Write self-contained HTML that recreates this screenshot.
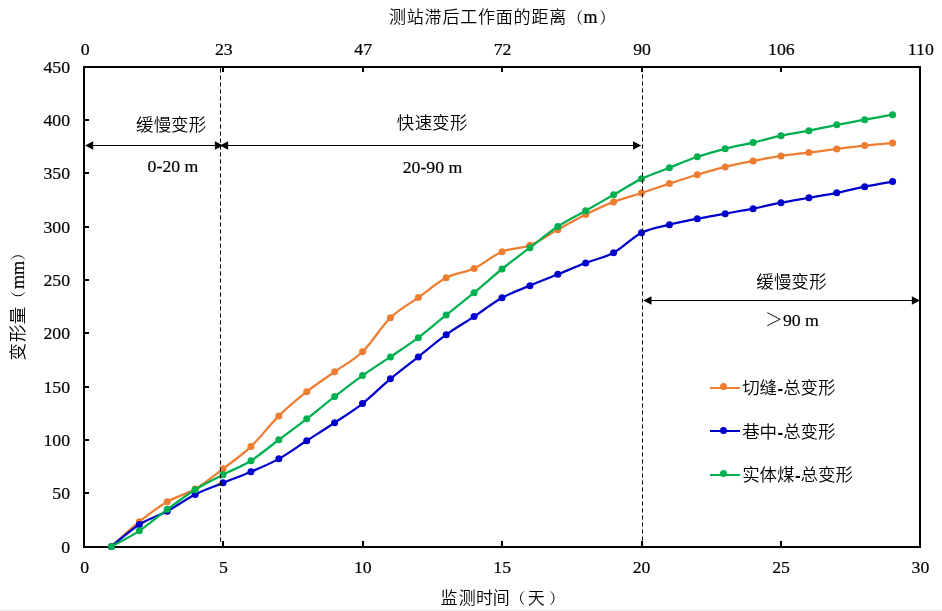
<!DOCTYPE html>
<html><head><meta charset="utf-8"><title>chart</title>
<style>html,body{margin:0;padding:0;background:#fff;}svg{display:block;}.p{font-family:'Noto Serif CJK SC',serif;font-weight:400;}</style>
</head><body>
<svg width="942" height="611" viewBox="0 0 942 611">
<rect x="0" y="0" width="942" height="611" fill="#fff"/>
<rect x="0" y="609" width="942" height="1" fill="#f7f7f7"/><rect x="0" y="610" width="942" height="1" fill="#ececec"/>
<rect x="84" y="67" width="836" height="480" fill="none" stroke="#000" stroke-width="2"/>
<g fill="#000"><rect x="85" y="546" width="4" height="2"/><rect x="85" y="492" width="4" height="2"/><rect x="85" y="439" width="4" height="2"/><rect x="85" y="386" width="4" height="2"/><rect x="85" y="332" width="4" height="2"/><rect x="85" y="279" width="4" height="2"/><rect x="85" y="226" width="4" height="2"/><rect x="85" y="172" width="4" height="2"/><rect x="85" y="119" width="4" height="2"/><rect x="85" y="66" width="4" height="2"/><rect x="222" y="541" width="2" height="5"/><rect x="222" y="68" width="2" height="4"/><rect x="362" y="541" width="2" height="5"/><rect x="362" y="68" width="2" height="4"/><rect x="501" y="541" width="2" height="5"/><rect x="501" y="68" width="2" height="4"/><rect x="641" y="541" width="2" height="5"/><rect x="641" y="68" width="2" height="4"/><rect x="780" y="541" width="2" height="5"/><rect x="780" y="68" width="2" height="4"/></g>
<path d="M111.45 546.44C116.1 542.32 130.05 529.14 139.35 521.69C148.65 514.24 157.94 507.2 167.24 501.75C176.54 496.29 185.84 494.44 195.14 488.95C204.44 483.45 213.74 475.84 223.04 468.79C232.34 461.73 241.64 455.42 250.94 446.6C260.24 437.78 269.54 425.04 278.84 415.88C288.14 406.72 297.43 399.03 306.73 391.67C316.03 384.31 325.33 378.37 334.63 371.72C343.93 365.07 353.23 360.77 362.53 351.77C371.83 342.78 381.13 326.78 390.43 317.75C399.73 308.72 409.03 304.25 418.33 297.59C427.63 290.92 436.92 282.6 446.22 277.75C455.52 272.89 464.82 272.8 474.12 268.47C483.42 264.13 492.72 255.58 502.02 251.72C511.32 247.86 520.62 249 529.92 245.32C539.22 241.64 548.52 234.78 557.82 229.64C567.12 224.5 576.41 219.12 585.71 214.49C595.01 209.87 604.31 205.5 613.61 201.91C622.91 198.32 632.21 196 641.51 192.95C650.81 189.89 660.11 186.6 669.41 183.56C678.71 180.52 688.01 177.48 697.31 174.71C706.61 171.93 715.9 169.21 725.2 166.92C734.5 164.63 743.8 162.78 753.1 160.95C762.4 159.12 771.7 157.34 781 155.93C790.3 154.53 799.6 153.69 808.9 152.52C818.2 151.35 827.5 150.05 836.8 148.89C846.1 147.74 855.39 146.58 864.69 145.59C873.99 144.59 887.94 143.36 892.59 142.92" fill="none" stroke="#ED7D31" stroke-width="2.25" stroke-linejoin="round" stroke-linecap="round"/>
<g fill="#ED7D31"><circle cx="111.45" cy="546.44" r="3.5"/><circle cx="139.35" cy="521.69" r="3.5"/><circle cx="167.24" cy="501.75" r="3.5"/><circle cx="195.14" cy="488.95" r="3.5"/><circle cx="223.04" cy="468.79" r="3.5"/><circle cx="250.94" cy="446.6" r="3.5"/><circle cx="278.84" cy="415.88" r="3.5"/><circle cx="306.73" cy="391.67" r="3.5"/><circle cx="334.63" cy="371.72" r="3.5"/><circle cx="362.53" cy="351.77" r="3.5"/><circle cx="390.43" cy="317.75" r="3.5"/><circle cx="418.33" cy="297.59" r="3.5"/><circle cx="446.22" cy="277.75" r="3.5"/><circle cx="474.12" cy="268.47" r="3.5"/><circle cx="502.02" cy="251.72" r="3.5"/><circle cx="529.92" cy="245.32" r="3.5"/><circle cx="557.82" cy="229.64" r="3.5"/><circle cx="585.71" cy="214.49" r="3.5"/><circle cx="613.61" cy="201.91" r="3.5"/><circle cx="641.51" cy="192.95" r="3.5"/><circle cx="669.41" cy="183.56" r="3.5"/><circle cx="697.31" cy="174.71" r="3.5"/><circle cx="725.2" cy="166.92" r="3.5"/><circle cx="753.1" cy="160.95" r="3.5"/><circle cx="781" cy="155.93" r="3.5"/><circle cx="808.9" cy="152.52" r="3.5"/><circle cx="836.8" cy="148.89" r="3.5"/><circle cx="864.69" cy="145.59" r="3.5"/><circle cx="892.59" cy="142.92" r="3.5"/></g>

<path d="M111.45 546.44C116.1 542.78 130.05 530.33 139.35 524.47C148.65 518.6 157.94 516.25 167.24 511.24C176.54 506.23 185.84 499.12 195.14 494.39C204.44 489.66 213.74 486.64 223.04 482.87C232.34 479.1 241.64 475.77 250.94 471.77C260.24 467.77 269.54 464.04 278.84 458.87C288.14 453.69 297.43 446.76 306.73 440.73C316.03 434.71 325.33 428.91 334.63 422.71C343.93 416.5 353.23 410.81 362.53 403.51C371.83 396.2 381.13 386.64 390.43 378.87C399.73 371.1 409.03 364.25 418.33 356.89C427.63 349.53 436.92 341.43 446.22 334.71C455.52 327.99 464.82 322.72 474.12 316.57C483.42 310.42 492.72 302.96 502.02 297.8C511.32 292.64 520.62 289.55 529.92 285.64C539.22 281.73 548.52 278.12 557.82 274.33C567.12 270.55 576.41 266.51 585.71 262.92C595.01 259.33 604.31 257.82 613.61 252.79C622.91 247.76 632.21 237.43 641.51 232.73C650.81 228.04 660.11 226.97 669.41 224.63C678.71 222.28 688.01 220.48 697.31 218.65C706.61 216.82 715.9 215.31 725.2 213.64C734.5 211.97 743.8 210.46 753.1 208.63C762.4 206.8 771.7 204.47 781 202.65C790.3 200.84 799.6 199.38 808.9 197.75C818.2 196.11 827.5 194.69 836.8 192.84C846.1 190.99 855.39 188.54 864.69 186.65C873.99 184.77 887.94 182.39 892.59 181.53" fill="none" stroke="#0000CC" stroke-width="2.25" stroke-linejoin="round" stroke-linecap="round"/>
<g fill="#0000CC"><circle cx="111.45" cy="546.44" r="3.5"/><circle cx="139.35" cy="524.47" r="3.5"/><circle cx="167.24" cy="511.24" r="3.5"/><circle cx="195.14" cy="494.39" r="3.5"/><circle cx="223.04" cy="482.87" r="3.5"/><circle cx="250.94" cy="471.77" r="3.5"/><circle cx="278.84" cy="458.87" r="3.5"/><circle cx="306.73" cy="440.73" r="3.5"/><circle cx="334.63" cy="422.71" r="3.5"/><circle cx="362.53" cy="403.51" r="3.5"/><circle cx="390.43" cy="378.87" r="3.5"/><circle cx="418.33" cy="356.89" r="3.5"/><circle cx="446.22" cy="334.71" r="3.5"/><circle cx="474.12" cy="316.57" r="3.5"/><circle cx="502.02" cy="297.8" r="3.5"/><circle cx="529.92" cy="285.64" r="3.5"/><circle cx="557.82" cy="274.33" r="3.5"/><circle cx="585.71" cy="262.92" r="3.5"/><circle cx="613.61" cy="252.79" r="3.5"/><circle cx="641.51" cy="232.73" r="3.5"/><circle cx="669.41" cy="224.63" r="3.5"/><circle cx="697.31" cy="218.65" r="3.5"/><circle cx="725.2" cy="213.64" r="3.5"/><circle cx="753.1" cy="208.63" r="3.5"/><circle cx="781" cy="202.65" r="3.5"/><circle cx="808.9" cy="197.75" r="3.5"/><circle cx="836.8" cy="192.84" r="3.5"/><circle cx="864.69" cy="186.65" r="3.5"/><circle cx="892.59" cy="181.53" r="3.5"/></g>

<path d="M111.45 546.44C116.1 543.84 130.05 537.05 139.35 530.87C148.65 524.68 157.94 516.18 167.24 509.32C176.54 502.46 185.84 495.47 195.14 489.69C204.44 483.92 213.74 479.49 223.04 474.65C232.34 469.82 241.64 466.49 250.94 460.68C260.24 454.87 269.54 446.74 278.84 439.77C288.14 432.8 297.43 426.07 306.73 418.87C316.03 411.67 325.33 403.79 334.63 396.57C343.93 389.36 353.23 382.17 362.53 375.56C371.83 368.95 381.13 363.2 390.43 356.89C399.73 350.58 409.03 344.68 418.33 337.69C427.63 330.71 436.92 322.48 446.22 314.97C455.52 307.47 464.82 300.34 474.12 292.68C483.42 285.02 492.72 276.5 502.02 269C511.32 261.5 520.62 254.74 529.92 247.67C539.22 240.59 548.52 232.7 557.82 226.55C567.12 220.4 576.41 216.06 585.71 210.76C595.01 205.46 604.31 200.08 613.61 194.76C622.91 189.44 632.21 183.36 641.51 178.87C650.81 174.37 660.11 171.45 669.41 167.77C678.71 164.09 688.01 159.95 697.31 156.79C706.61 153.62 715.9 151.15 725.2 148.79C734.5 146.42 743.8 144.79 753.1 142.6C762.4 140.41 771.7 137.66 781 135.67C790.3 133.68 799.6 132.47 808.9 130.65C818.2 128.84 827.5 126.62 836.8 124.79C846.1 122.96 855.39 121.36 864.69 119.67C873.99 117.98 887.94 115.49 892.59 114.65" fill="none" stroke="#00B050" stroke-width="2.25" stroke-linejoin="round" stroke-linecap="round"/>
<g fill="#00B050"><circle cx="111.45" cy="546.44" r="3.5"/><circle cx="139.35" cy="530.87" r="3.5"/><circle cx="167.24" cy="509.32" r="3.5"/><circle cx="195.14" cy="489.69" r="3.5"/><circle cx="223.04" cy="474.65" r="3.5"/><circle cx="250.94" cy="460.68" r="3.5"/><circle cx="278.84" cy="439.77" r="3.5"/><circle cx="306.73" cy="418.87" r="3.5"/><circle cx="334.63" cy="396.57" r="3.5"/><circle cx="362.53" cy="375.56" r="3.5"/><circle cx="390.43" cy="356.89" r="3.5"/><circle cx="418.33" cy="337.69" r="3.5"/><circle cx="446.22" cy="314.97" r="3.5"/><circle cx="474.12" cy="292.68" r="3.5"/><circle cx="502.02" cy="269" r="3.5"/><circle cx="529.92" cy="247.67" r="3.5"/><circle cx="557.82" cy="226.55" r="3.5"/><circle cx="585.71" cy="210.76" r="3.5"/><circle cx="613.61" cy="194.76" r="3.5"/><circle cx="641.51" cy="178.87" r="3.5"/><circle cx="669.41" cy="167.77" r="3.5"/><circle cx="697.31" cy="156.79" r="3.5"/><circle cx="725.2" cy="148.79" r="3.5"/><circle cx="753.1" cy="142.6" r="3.5"/><circle cx="781" cy="135.67" r="3.5"/><circle cx="808.9" cy="130.65" r="3.5"/><circle cx="836.8" cy="124.79" r="3.5"/><circle cx="864.69" cy="119.67" r="3.5"/><circle cx="892.59" cy="114.65" r="3.5"/></g>

<path d="M220.5 68.4V542" stroke="#000" stroke-width="1" stroke-dasharray="4.2 2.8" fill="none"/>
<path d="M642.5 67.4V541" stroke="#000" stroke-width="1" stroke-dasharray="4.2 2.8" fill="none"/>
<g fill="#000" stroke="none">
<rect x="92" y="145" width="124" height="1"/>
<rect x="227" y="145" width="407" height="1"/>
<rect x="650" y="300" width="263" height="1"/>
<path d="M85 145.5L93.2 141.2L93.2 149.8Z"/>
<path d="M223.1 145.5L214.9 141.2L214.9 149.8Z"/>
<path d="M219.9 145.5L228.1 141.2L228.1 149.8Z"/>
<path d="M641.2 145.5L633 141.2L633 149.8Z"/>
<path d="M643.3 300.5L651.5 296.2L651.5 304.8Z"/>
<path d="M920 300.5L911.8 296.2L911.8 304.8Z"/>
</g>
<g font-family="'Liberation Serif','Noto Sans CJK SC',serif" font-size="17.75" fill="#000" stroke="#000" stroke-width="0.2">
<text x="70" y="552.7" text-anchor="end">0</text>
<text x="70" y="499.37" text-anchor="end">50</text>
<text x="70" y="446.03" text-anchor="end">100</text>
<text x="70" y="392.7" text-anchor="end">150</text>
<text x="70" y="339.37" text-anchor="end">200</text>
<text x="70" y="286.03" text-anchor="end">250</text>
<text x="70" y="232.7" text-anchor="end">300</text>
<text x="70" y="179.37" text-anchor="end">350</text>
<text x="70" y="126.03" text-anchor="end">400</text>
<text x="70" y="72.7" text-anchor="end">450</text>
<text x="84.8" y="573.1" text-anchor="middle">0</text>
<text x="223.4" y="573.1" text-anchor="middle">5</text>
<text x="362.8" y="573.1" text-anchor="middle">10</text>
<text x="502.2" y="573.1" text-anchor="middle">15</text>
<text x="641.6" y="573.1" text-anchor="middle">20</text>
<text x="781" y="573.1" text-anchor="middle">25</text>
<text x="920.4" y="573.1" text-anchor="middle">30</text>
<text x="85.3" y="54.7" text-anchor="middle">0</text>
<text x="223.8" y="54.7" text-anchor="middle">23</text>
<text x="363.2" y="54.7" text-anchor="middle">47</text>
<text x="502.6" y="54.7" text-anchor="middle">72</text>
<text x="642" y="54.7" text-anchor="middle">90</text>
<text x="781.4" y="54.7" text-anchor="middle">106</text>
<text x="920.8" y="54.7" text-anchor="middle">110</text>
<text x="173" y="172" text-anchor="middle">0-20 m</text>
<text x="432.5" y="173.2" text-anchor="middle">20-90 m</text>
<text x="792" y="326" text-anchor="middle"><tspan font-family="'Noto Sans CJK SC',sans-serif" font-weight="300" stroke="none">＞</tspan>90 m</text>
</g>
<g font-family="'Noto Sans CJK SC',sans-serif" font-weight="350" fill="#000">
<text x="135.9 153.8 170.9 188.7" y="130.9" font-size="17.5">缓慢变形</text>
<text x="396.8 414.7 432.1 449.9" y="128.9" font-size="17.5">快速变形</text>
<text x="756.3 774.1 791.3 809.2" y="287.6" font-size="17.5">缓慢变形</text>
<text x="389 406.8 424.6 442.4 460.2 478 495.8 513.6 531.4 549.2" y="22.7" font-size="17">测站滞后工作面的距离</text>
<text x="567.2" y="23.2" font-size="16" class="p">（</text>
<text x="583.5" y="23.2" font-size="18" font-family="'Liberation Serif',serif" font-weight="400" stroke="#000" stroke-width="0.2">m</text>
<text x="599.3" y="23.2" font-size="16" class="p">）</text>
<text x="440.6 458.8 475.9 492.7" y="604.2" font-size="17">监测时间</text>
<text x="510.3" y="604.2" font-size="15" class="p">（</text>
<text x="527.7" y="604.2" font-size="17">天</text>
<text x="549.3" y="604.2" font-size="15" class="p">）</text>
<g transform="translate(24 0) rotate(-90)">
<text x="-360.6 -342 -324.3" y="0" font-size="17.5">变形量</text>
<text x="-306" y="0" font-size="15" class="p">（</text>
<text x="-289.1" y="0" font-size="18" font-family="'Liberation Serif',serif" font-weight="400" stroke="#000" stroke-width="0.2">mm</text>
<text x="-260.5" y="0" font-size="15" class="p">）</text>
</g>
<path d="M710 388H740" stroke="#ED7D31" stroke-width="2"/><circle cx="723.5" cy="386.5" r="3.5" fill="#ED7D31"/>
<text x="742.2 759.6" y="393.9" font-size="17.5">切缝</text>
<text x="777.6" y="393.9" font-size="17" font-family="'Liberation Sans',sans-serif" font-weight="700">-</text>
<text x="783.2 800.6 818" y="393.9" font-size="17.5">总变形</text>
<path d="M710 431H740" stroke="#0000CC" stroke-width="2"/><circle cx="723.5" cy="430.5" r="3.5" fill="#0000CC"/>
<text x="742.2 759.6" y="437.5" font-size="17.5">巷中</text>
<text x="777.6" y="437.5" font-size="17" font-family="'Liberation Sans',sans-serif" font-weight="700">-</text>
<text x="783.2 800.6 818" y="437.5" font-size="17.5">总变形</text>
<path d="M710 475H740" stroke="#00B050" stroke-width="2"/><circle cx="723.5" cy="473.5" r="3.5" fill="#00B050"/>
<text x="742.2 759.6 777" y="481.2" font-size="17.5">实体煤</text>
<text x="795" y="481.2" font-size="17" font-family="'Liberation Sans',sans-serif" font-weight="700">-</text>
<text x="800.6 818 835.4" y="481.2" font-size="17.5">总变形</text>
</g>
</svg>
</body></html>
